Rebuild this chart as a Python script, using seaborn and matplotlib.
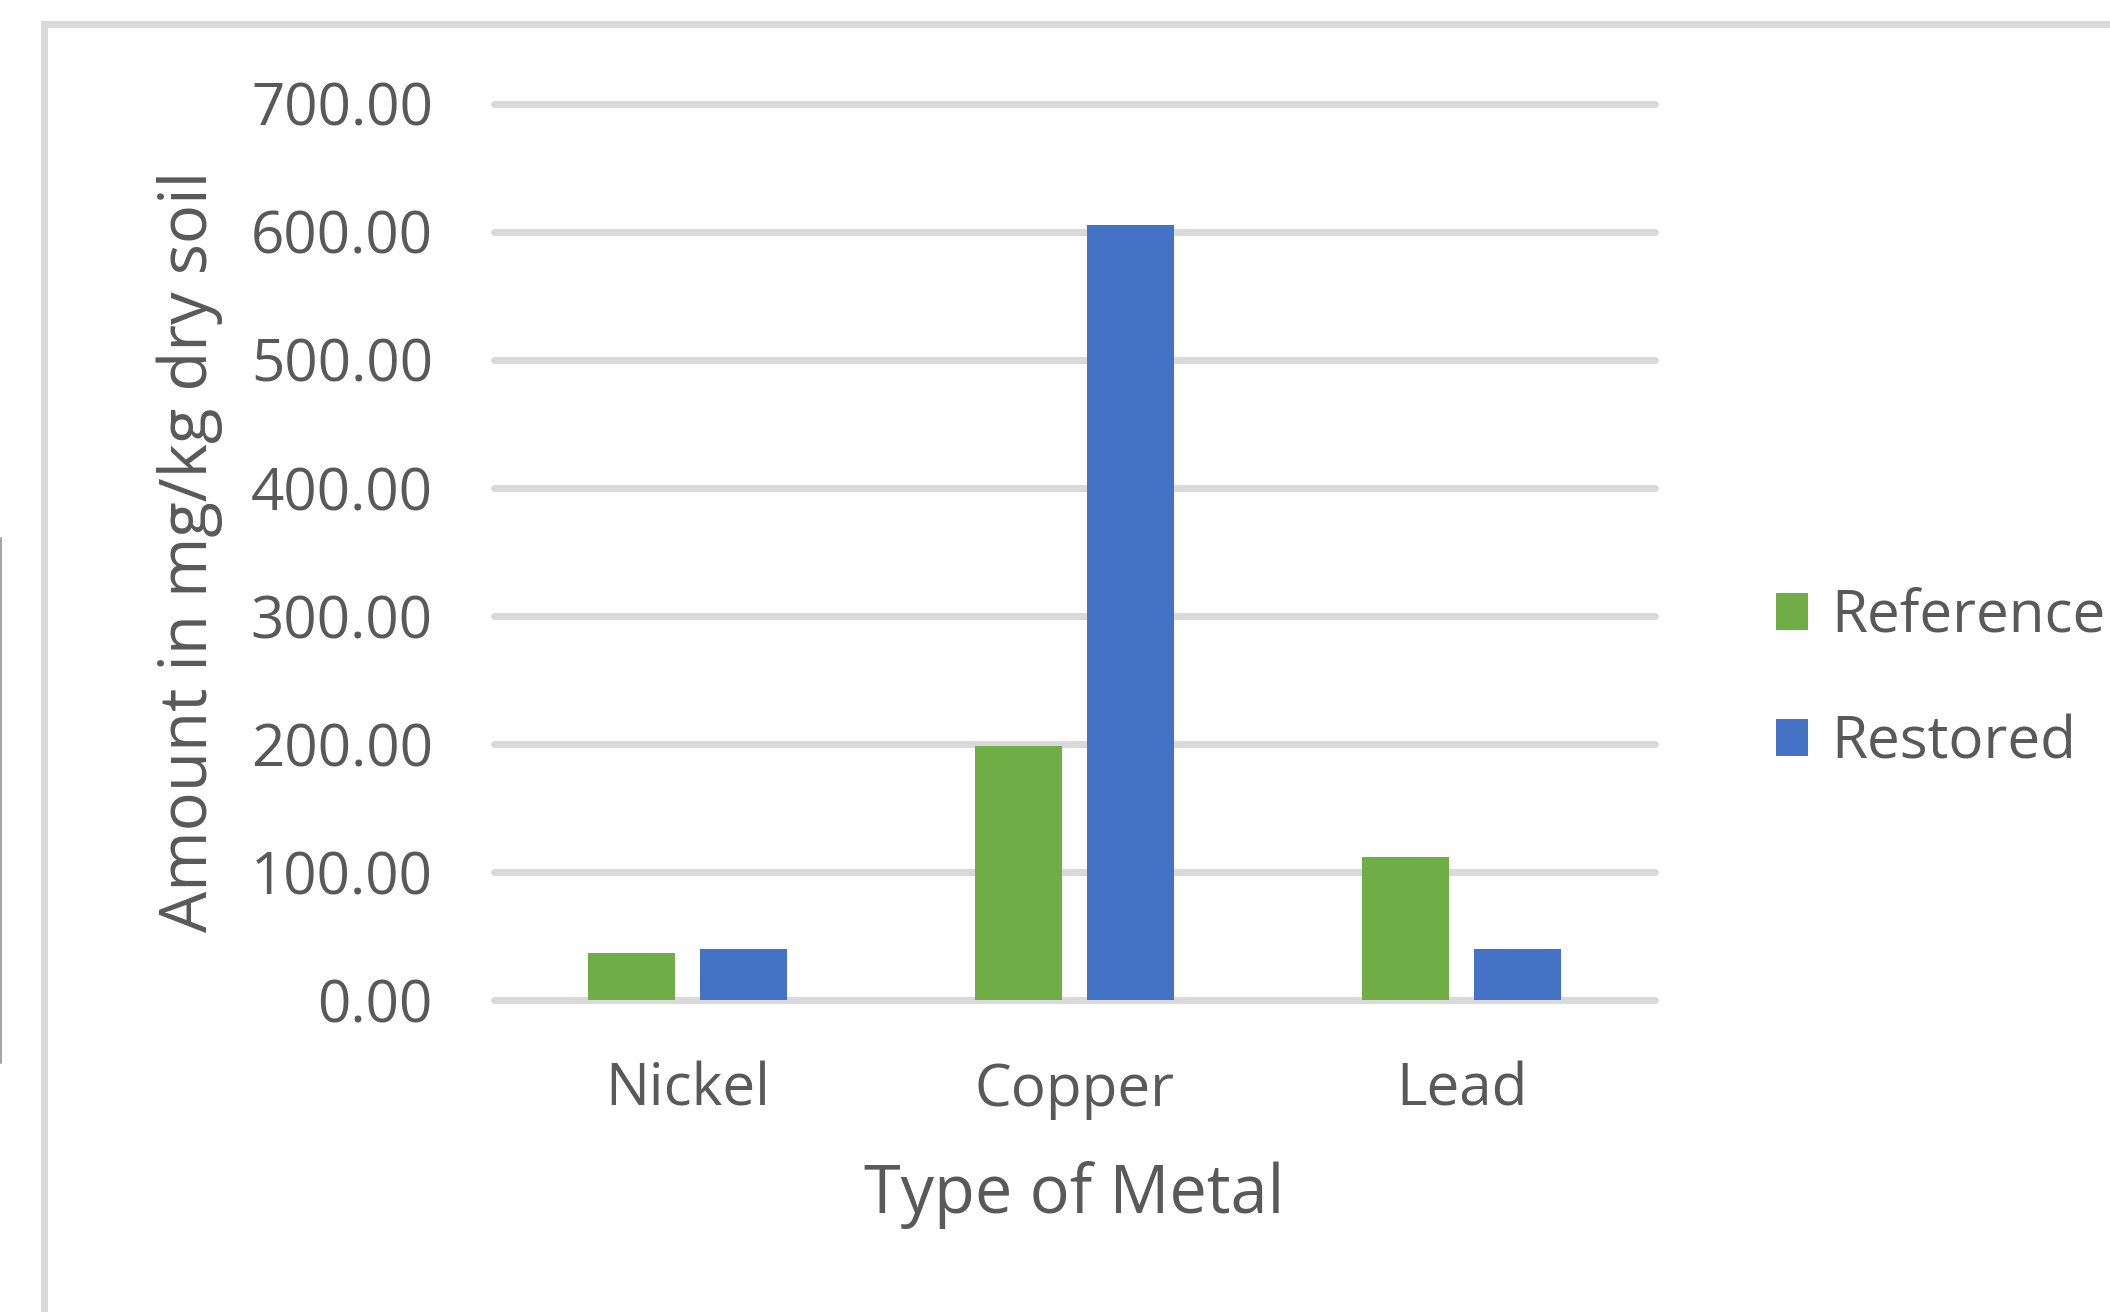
import matplotlib
matplotlib.use("Agg")
import matplotlib.pyplot as plt
import seaborn as sns
import pandas as pd
from matplotlib.patches import Rectangle
from matplotlib.lines import Line2D

METALS = ["Nickel", "Copper", "Lead"]
SERIES = ["Reference", "Restored"]
REFERENCE = [37.0, 198.0, 112.0]
RESTORED = [40.0, 605.0, 40.0]
Y_TICKS = [0, 100, 200, 300, 400, 500, 600, 700]

COLORS = ["#70ad47", "#4472c4"]
GRID = "#d9d9d9"
TEXT = "#595959"
FS = 42

df = pd.DataFrame({
    "metal": METALS * 2,
    "series": [SERIES[0]] * len(METALS) + [SERIES[1]] * len(METALS),
    "amount": REFERENCE + RESTORED,
})

sns.set_theme(style="white")
plt.rcParams["font.family"] = ["Open Sans", "DejaVu Sans"]

fig = plt.figure(figsize=(21.1, 13.12), dpi=100)
ax = fig.add_axes([494 / 2110, 1 - 1000 / 1312, (1655 - 494) / 2110, (1000 - 103.6) / 1312])

sns.barplot(
    data=df, x="metal", y="amount", hue="series",
    palette=COLORS, saturation=1, width=0.58, gap=0.23,
    errorbar=None, linewidth=0, ax=ax,
)

ax.set_ylim(Y_TICKS[0], Y_TICKS[-1])
ax.set_xlim(-0.5, len(METALS) - 0.5)
ax.set_yticks(Y_TICKS)
ax.set_yticklabels([f"{v:.2f}" for v in Y_TICKS])
ax.tick_params(axis="y", length=0, pad=44, labelsize=FS, labelcolor=TEXT)
ax.tick_params(axis="x", length=0, pad=44, labelsize=FS, labelcolor=TEXT)

ax.set_axisbelow(True)
ax.yaxis.grid(True, color=GRID, linewidth=5)
for gl in ax.yaxis.get_gridlines():
    gl.set_clip_on(False)
for s in ax.spines.values():
    s.set_visible(False)

ax.set_xlabel("Type of Metal", fontsize=48, color=TEXT, labelpad=30)
ax.set_ylabel("Amount in mg/kg dry soil", fontsize=47, color=TEXT, labelpad=20)

sns.move_legend(
    ax, "center left", bbox_to_anchor=(1776 / 2110, 1 - 680 / 1312),
    bbox_transform=fig.transFigure, title=None, frameon=False,
    fontsize=FS, handlelength=0.55, handleheight=0.6, handletextpad=0.4,
    labelspacing=1.15, borderpad=0, borderaxespad=0,
)
for t in ax.get_legend().get_texts():
    t.set_color(TEXT)

# chart area border (runs off the right and bottom edges)
fig.patches.append(Rectangle((43.5 / 2110, -0.5), 2.0, 0.5 + 1 - 24.5 / 1312,
                             transform=fig.transFigure, fill=False,
                             edgecolor=GRID, linewidth=5))
fig.lines.append(Line2D([0.0003, 0.0003], [1 - 1063 / 1312, 1 - 538 / 1312],
                        transform=fig.transFigure, color="#a6a6a6", linewidth=1.5))

fig.savefig("out.png", dpi=100)
